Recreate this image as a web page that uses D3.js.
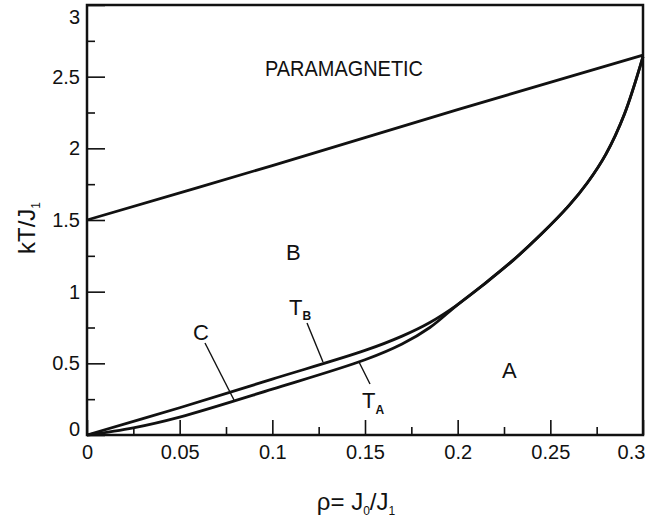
<!DOCTYPE html>
<html lang="en">
<head>
  <meta charset="UTF-8">
  <title>Phase diagram</title>
  <style>
    body { margin: 0; background: #fff; }
    text { font-family: "Liberation Sans", Arial, sans-serif; fill: #111; }
  </style>
</head>
<body>
  <div class="canvas"></div>
  <script src="https://cdnjs.cloudflare.com/ajax/libs/d3/7.8.5/d3.min.js"></script>
  <script>
// data (rho, kT/J1)
const xTicks = [0, 0.05, 0.1, 0.15, 0.2, 0.25, 0.3];
const xTickLabels = ['0', '0.05', '0.1', '0.15', '0.2', '0.25', '0.3'];
const xMinor = [0.025, 0.075, 0.125, 0.175, 0.225, 0.275];
const yTicks = [0, 0.5, 1, 1.5, 2, 2.5, 3];
const yTickLabels = ['0', '0.5', '1', '1.5', '2', '2.5', '3'];
const yMinor = [0.25, 0.75, 1.25, 1.75, 2.25, 2.75];

// paramagnetic boundary
const paraRho = [0, 0.1, 0.2, 0.3];
const paraT   = [1.5, 1.88, 2.27, 2.65];

// T_B (upper of the pair)
const tbRho = [0, 0.05, 0.1, 0.15, 0.17, 0.185, 0.2];
const tbT   = [0, 0.19, 0.39, 0.59, 0.69, 0.785, 0.91];

// T_A (lower of the pair)
const taRho = [0, 0.025, 0.05, 0.1, 0.15, 0.17, 0.185, 0.2];
const taT   = [0, 0.05, 0.125, 0.32, 0.525, 0.635, 0.75, 0.91];

// common steep branch to the top right
const tailRho = [0.215, 0.23, 0.245, 0.26, 0.27, 0.28, 0.29, 0.3];
const tailT   = [1.06, 1.22, 1.4, 1.6, 1.76, 1.96, 2.24, 2.64];

const svg = d3.select('.canvas')
  .append('svg')
    .attr('width', 645)
    .attr('height', 525);

const margin = {top: 5, right: 2, bottom: 90, left: 87};
const graphWidth = 645 - margin.left - margin.right;
const graphHeight = 525 - margin.top - margin.bottom;

const graph = svg.append('g')
  .attr('transform', `translate(${margin.left}, ${margin.top})`);

const x = d3.scaleLinear().domain([0, 0.3]).range([0, graphWidth]);
const y = d3.scaleLinear().domain([0, 3]).range([graphHeight, 0]);

// frame
graph.append('rect')
  .attr('x', 0).attr('y', 0)
  .attr('width', graphWidth).attr('height', graphHeight)
  .attr('fill', 'none')
  .attr('stroke', '#111')
  .attr('stroke-width', 2.5);

// axes, ticks point inwards
const xAxisGroup = graph.append('g')
  .attr('transform', `translate(0, ${graphHeight})`)
  .call(d3.axisBottom(x).tickValues(xTicks).tickSize(-15).tickPadding(10)
    .tickFormat((d, i) => xTickLabels[i]));

const xMinorGroup = graph.append('g')
  .attr('transform', `translate(0, ${graphHeight})`)
  .call(d3.axisBottom(x).tickValues(xMinor).tickSize(-8).tickFormat(''));

const yAxisGroup = graph.append('g')
  .call(d3.axisLeft(y).tickValues(yTicks).tickSize(-18).tickPadding(7)
    .tickFormat((d, i) => yTickLabels[i]));

const yMinorGroup = graph.append('g')
  .call(d3.axisLeft(y).tickValues(yMinor).tickSize(-8).tickFormat(''));

[xAxisGroup, xMinorGroup, yAxisGroup, yMinorGroup].forEach(g => {
  g.select('.domain').remove();
  g.selectAll('line').attr('stroke', '#111').attr('stroke-width', 1.6);
});

xAxisGroup.selectAll('text')
  .attr('font-size', 20)
  .attr('fill', '#111');
// last label sits against the right edge
xAxisGroup.selectAll('text').filter(d => d === 0.3).attr('dx', -12);

yAxisGroup.selectAll('text')
  .attr('font-size', 20)
  .attr('fill', '#111');
yAxisGroup.selectAll('text').filter(d => d === 3).attr('dy', '0.9em');
yAxisGroup.selectAll('text').filter(d => d === 0).attr('dy', '0');

// curves
const line = d3.line()
  .x(d => x(d[0]))
  .y(d => y(d[1]))
  .curve(d3.curveCatmullRom.alpha(0.5));

const zip = (a, b) => a.map((v, i) => [v, b[i]]);
const tail = zip(tailRho, tailT);

const curves = [
  zip(paraRho, paraT),
  zip(tbRho, tbT).concat(tail),
  zip(taRho, taT).concat(tail)
];

graph.selectAll('path.curve')
  .data(curves)
  .enter()
  .append('path')
    .attr('class', 'curve')
    .attr('d', line)
    .attr('fill', 'none')
    .attr('stroke', '#111')
    .attr('stroke-width', 2.8)
    .attr('stroke-linejoin', 'round');

// region labels
svg.append('text')
  .attr('x', 265).attr('y', 76)
  .attr('font-size', 22)
  .attr('textLength', 158)
  .attr('lengthAdjust', 'spacingAndGlyphs')
  .text('PARAMAGNETIC');

svg.append('text').attr('x', 286).attr('y', 260).attr('font-size', 22).text('B');
svg.append('text').attr('x', 502).attr('y', 378).attr('font-size', 22).text('A');
svg.append('text').attr('x', 193).attr('y', 340).attr('font-size', 22).text('C');

// T_B / T_A labels
const tb = svg.append('text').attr('x', 289).attr('y', 315).attr('font-size', 22);
tb.append('tspan').text('T');
tb.append('tspan').attr('font-size', 12).attr('dy', 5).attr('font-weight', 'bold').text('B');

const ta = svg.append('text').attr('x', 362).attr('y', 408).attr('font-size', 22);
ta.append('tspan').text('T');
ta.append('tspan').attr('font-size', 12).attr('dy', 6).attr('font-weight', 'bold').text('A');

// leader lines
const leaders = [
  [[205, 343], [234, 400]],
  [[307, 323], [323, 362]],
  [[359, 362], [370, 384]]
];
svg.selectAll('line.leader')
  .data(leaders)
  .enter()
  .append('line')
    .attr('class', 'leader')
    .attr('x1', d => d[0][0]).attr('y1', d => d[0][1])
    .attr('x2', d => d[1][0]).attr('y2', d => d[1][1])
    .attr('stroke', '#111')
    .attr('stroke-width', 1.4);

// axis titles
const yTitle = svg.append('text')
  .attr('transform', 'translate(35, 228) rotate(-90)')
  .attr('text-anchor', 'middle')
  .attr('font-size', 24);
yTitle.append('tspan').text('kT/J');
yTitle.append('tspan').attr('font-size', 12).attr('dy', 5).text('1');

const xTitle = svg.append('text')
  .attr('x', 356).attr('y', 510)
  .attr('text-anchor', 'middle')
  .attr('font-size', 24);
xTitle.append('tspan').text('ρ= J');
xTitle.append('tspan').attr('font-size', 12).attr('dy', 5).text('0');
xTitle.append('tspan').attr('dy', -5).text('/J');
xTitle.append('tspan').attr('font-size', 12).attr('dy', 5).text('1');
  </script>
</body>
</html>
